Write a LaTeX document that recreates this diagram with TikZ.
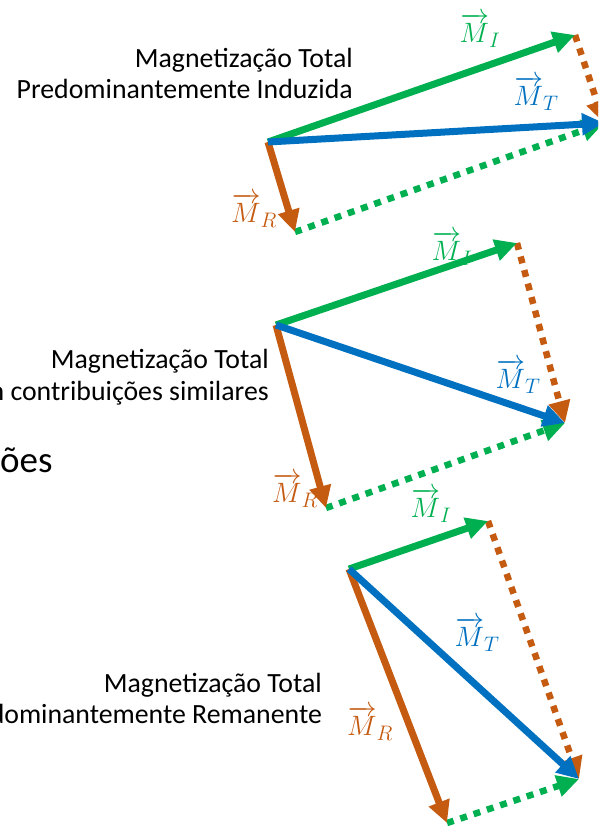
\RequirePackage{fix-cm}
\documentclass[tikz,border=0pt]{standalone}
\usepackage{amsmath}
\usepackage{fontspec}
\setmainfont{Carlito}
\usepackage{tikz}
\usetikzlibrary{arrows.meta}

\DeclareMathSizes{28}{28}{21}{15}

\definecolor{mgreen}{HTML}{00B050}
\definecolor{mblue}{HTML}{0070C0}
\definecolor{mbrown}{HTML}{C55A11}

\begin{document}
\begin{tikzpicture}[
    x=1pt, y=-1pt,
    vecI/.style={-{Triangle[length=22pt,width=21pt]}, mgreen, line width=7pt},
    vecT/.style={-{Triangle[length=22pt,width=21pt]}, mblue, line width=7pt},
    vecR/.style={-{Triangle[length=22pt,width=21pt]}, mbrown, line width=7pt},
    guideI/.style={-{Triangle[length=22pt,width=21pt]}, mgreen, line width=6.5pt, dash pattern=on 7pt off 7pt},
    guideR/.style={-{Triangle[length=22pt,width=21pt]}, mbrown, line width=6.5pt, dash pattern=on 7pt off 7pt},
    caption/.style={anchor=base east, inner sep=0pt, font=\fontsize{27.8}{31}\selectfont},
    veclabel/.style={inner sep=0pt, font=\fontsize{28}{32}\selectfont}
  ]

  \clip (0,0) rectangle (598,827);

  % Captions
  \node[caption] (cap1a) at (353,67) {Magnetização Total};
  \node[caption] (cap1b) at (353,98) {Predominantemente Induzida};
  \node[caption] (cap2a) at (269,368) {Magnetização Total};
  \node[caption] (cap2b) at (269,400) {Com contribuições similares};
  \node[caption] (cap3a) at (322,692) {Magnetização Total};
  \node[caption] (cap3b) at (322,723) {Predominantemente Remanente};
  \node[anchor=base west, inner sep=0pt, font=\fontsize{37}{40}\selectfont] (frag) at (0,472) {ões};

  % Points
  \coordinate (o1) at (268,142);
  \coordinate (i1) at (575,35);
  \coordinate (t1) at (604,123);
  \coordinate (r1) at (295,232);

  \coordinate (o2) at (276,325);
  \coordinate (i2) at (517,243);
  \coordinate (t2) at (565,423);
  \coordinate (r2) at (326,508);

  \coordinate (o3) at (349,569);
  \coordinate (i3) at (488,521);
  \coordinate (t3) at (579,779);
  \coordinate (r3) at (447,823);

  % Labels
  \node[veclabel, mgreen] (li1) at (480,30) {$\overrightarrow{M}_{I}$};
  \node[veclabel, mblue] (lt1) at (536,93) {$\overrightarrow{M}_{T}$};
  \node[veclabel, mbrown] (lr1) at (254,210) {$\overrightarrow{M}_{R}$};

  \node[veclabel, mgreen] (li2) at (452,248) {$\overrightarrow{M}_{I}$};
  \node[veclabel, mblue] (lt2) at (518,376) {$\overrightarrow{M}_{T}$};
  \node[veclabel, mbrown] (lr2) at (295,490) {$\overrightarrow{M}_{R}$};

  \node[veclabel, mgreen] (li3) at (431,505) {$\overrightarrow{M}_{I}$};
  \node[veclabel, mblue] (lt3) at (477,634) {$\overrightarrow{M}_{T}$};
  \node[veclabel, mbrown] (lr3) at (370,723) {$\overrightarrow{M}_{R}$};

  % Guide lines
  \draw[guideI] (r1) -- (t1);
  \draw[guideR] (i1) -- (t1);
  \draw[guideI] (r2) -- (t2);
  \draw[guideR] (i2) -- (t2);
  \draw[guideI] (r3) -- (t3);
  \draw[guideR] (i3) -- (t3);

  % Vectors
  \draw[vecI] (o1) -- (i1);
  \draw[vecR] (o1) -- (r1);
  \draw[vecT] (o1) -- (t1);
  \draw[vecI] (o2) -- (i2);
  \draw[vecR] (o2) -- (r2);
  \draw[vecT] (o2) -- (t2);
  \draw[vecI] (o3) -- (i3);
  \draw[vecR] (o3) -- (r3);
  \draw[vecT] (o3) -- (t3);

\end{tikzpicture}
\end{document}
